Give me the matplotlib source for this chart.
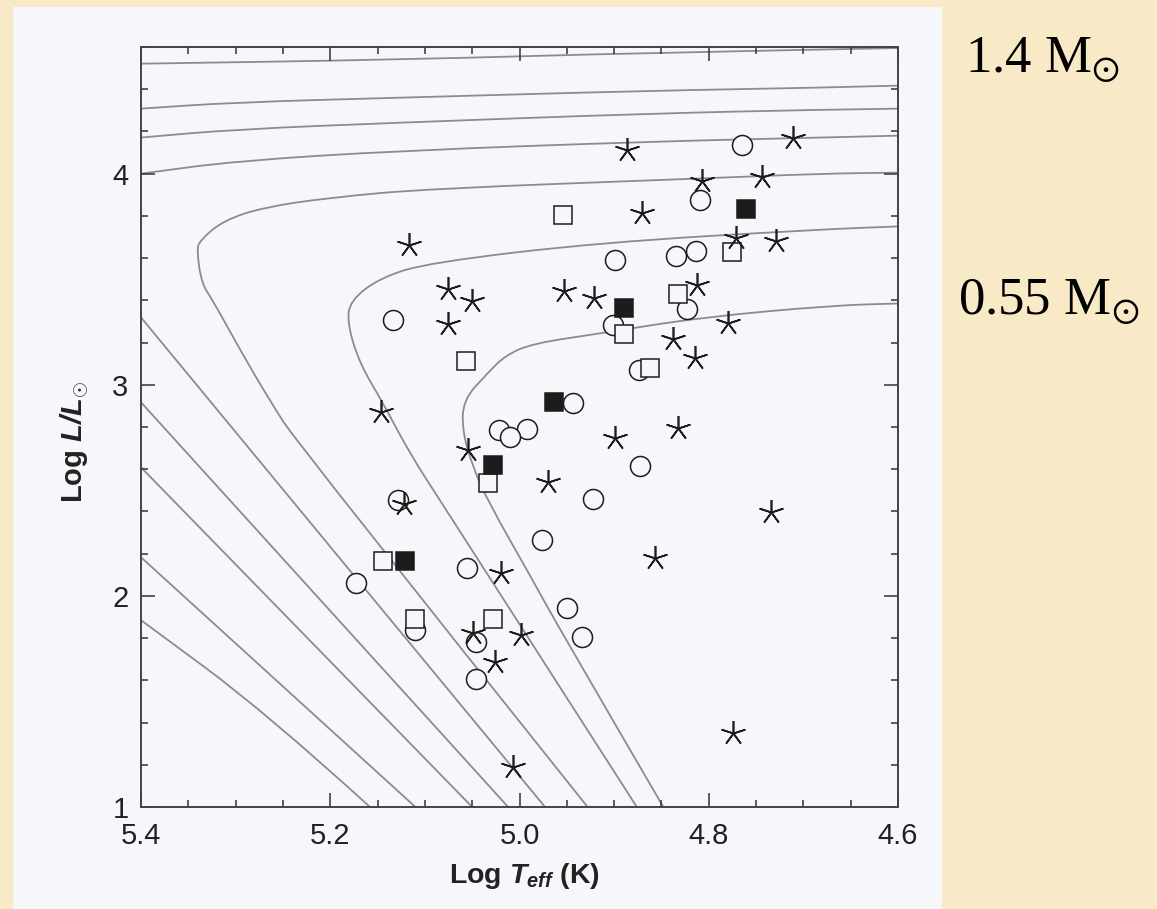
import numpy as np
import matplotlib.pyplot as plt
from matplotlib.patches import Rectangle, PathPatch
from matplotlib.path import Path
from matplotlib.ticker import MultipleLocator

plt.rcParams['font.family'] = 'Liberation Sans'
plt.rcParams['mathtext.fontset'] = 'custom'
plt.rcParams['mathtext.rm'] = 'Liberation Sans'
plt.rcParams['mathtext.it'] = 'Liberation Sans:italic'
plt.rcParams['mathtext.bf'] = 'Liberation Sans:bold'
plt.rcParams['mathtext.bfit'] = 'Liberation Sans:bold:italic'

# evolutionary tracks (log Teff, log L)
h1_x = [5.40, 5.126, 4.862, 4.60]
h1_y = [4.521, 4.540, 4.573, 4.595]
h2_x = [5.40, 5.30, 5.126, 4.862, 4.682, 4.60]
h2_y = [4.308, 4.338, 4.360, 4.393, 4.407, 4.417]
h3_x = [5.40, 5.30, 5.126, 4.862, 4.682, 4.60]
h3_y = [4.171, 4.210, 4.242, 4.285, 4.303, 4.308]
h4_x = [5.40, 5.30, 5.126, 4.862, 4.682, 4.60]
h4_y = [4.000, 4.060, 4.109, 4.152, 4.171, 4.180]

loop5_x = [4.600, 4.682, 4.809, 5.095, 5.200, 5.271, 5.313, 5.338, 5.341,
           5.336, 5.324, 5.295, 5.264, 5.235, 4.928]
loop5_y = [4.005, 4.000, 3.977, 3.929, 3.887, 3.840, 3.778, 3.683, 3.636,
           3.480, 3.399, 3.163, 2.926, 2.723, 1.000]
loop6_x = [4.600, 4.682, 4.915, 5.095, 5.147, 5.179, 5.182, 5.169, 5.144,
           5.116, 5.084, 4.876]
loop6_y = [3.750, 3.736, 3.674, 3.579, 3.508, 3.399, 3.291, 3.101, 2.912,
           2.675, 2.453, 1.000]
loop7_x = [4.600, 4.669, 4.809, 4.915, 4.986, 5.015, 5.034, 5.060, 5.060,
           5.049, 5.034, 4.986, 4.957, 4.848]
loop7_y = [3.385, 3.376, 3.319, 3.243, 3.196, 3.139, 3.054, 2.926, 2.770,
           2.609, 2.453, 2.074, 1.838, 1.000]

d1_x, d1_y = [5.40, 5.267, 5.158], [1.885, 1.445, 1.000]
d2_x, d2_y = [5.40, 5.110], [2.183, 1.000]
d3_x, d3_y = [5.40, 5.050], [2.609, 1.000]
d4_x, d4_y = [5.40, 5.012], [2.917, 1.000]
d5_x, d5_y = [5.40, 4.973], [3.319, 1.000]

tracks = [(h1_x, h1_y), (h2_x, h2_y), (h3_x, h3_y), (h4_x, h4_y),
          (loop5_x, loop5_y), (loop6_x, loop6_y), (loop7_x, loop7_y),
          (d1_x, d1_y), (d2_x, d2_y), (d3_x, d3_y), (d4_x, d4_y), (d5_x, d5_y)]

# central stars
circ_x = [4.765, 4.809, 4.899, 4.835, 4.813, 4.823, 5.134, 4.901, 4.874, 4.943,
          5.022, 4.992, 5.010, 5.128, 4.873, 4.922, 4.976, 5.173, 5.055, 4.950,
          5.110, 5.046, 4.934, 5.046]
circ_y = [4.138, 3.877, 3.593, 3.612, 3.636, 3.357, 3.305, 3.281, 3.068, 2.912,
          2.784, 2.789, 2.751, 2.453, 2.614, 2.458, 2.264, 2.060, 2.131, 1.942,
          1.838, 1.781, 1.805, 1.606]

star_x = [4.886, 4.711, 4.807, 4.744, 4.871, 4.771, 4.729, 5.117, 5.076, 5.050,
          5.076, 4.953, 4.921, 4.812, 4.780, 4.838, 4.815, 5.146, 5.054, 4.899,
          4.833, 4.970, 5.122, 4.734, 4.857, 5.020, 5.049, 4.998, 5.026, 5.007,
          4.774]
star_y = [4.114, 4.171, 3.967, 3.982, 3.816, 3.693, 3.679, 3.660, 3.456, 3.399,
          3.286, 3.442, 3.409, 3.475, 3.291, 3.215, 3.125, 2.869, 2.690, 2.746,
          2.794, 2.538, 2.434, 2.396, 2.178, 2.107, 1.823, 1.814, 1.686, 1.189,
          1.350]

sq_x = [4.954, 4.775, 4.833, 4.890, 4.862, 5.057, 5.033, 5.144, 5.110, 5.028]
sq_y = [3.802, 3.631, 3.428, 3.239, 3.078, 3.111, 2.533, 2.164, 1.890, 1.890]

fsq_x = [4.761, 4.890, 4.964, 5.028, 5.121]
fsq_y = [3.835, 3.362, 2.917, 2.619, 2.164]

x_ticks = [5.4, 5.2, 5.0, 4.8, 4.6]
x_labels = ['5.4', '5.2', '5.0', '4.8', '4.6']
y_ticks = [1, 2, 3, 4]
y_labels = ['1', '2', '3', '4']

beige = '#F8EAC6'
page = '#F6F7FB'
ink = '#1c1c1c'


def smooth_path(xs, ys):
    # read points used as quadratic bezier control points -> rounded track
    pts = list(zip(xs, ys))
    if len(pts) < 3:
        return Path(pts)
    verts = [pts[0]]
    codes = [Path.MOVETO]
    verts.append(((pts[0][0] + pts[1][0]) / 2, (pts[0][1] + pts[1][1]) / 2))
    codes.append(Path.LINETO)
    for i in range(1, len(pts) - 1):
        nxt = ((pts[i][0] + pts[i + 1][0]) / 2, (pts[i][1] + pts[i + 1][1]) / 2)
        if i == len(pts) - 2:
            nxt = pts[i + 1]
        verts += [pts[i], nxt]
        codes += [Path.CURVE3, Path.CURVE3]
    return Path(verts, codes)


fig = plt.figure(figsize=(11.57, 9.09), dpi=100)
fig.patch.set_facecolor(beige)
fig.patches.append(Rectangle((13 / 1157, 0), (942 - 13) / 1157, 1 - 7 / 909,
                             transform=fig.transFigure, facecolor=page,
                             edgecolor='none', zorder=-5))

ax = fig.add_axes([141 / 1157, 1 - 807 / 909, 757 / 1157, 760 / 909])
ax.set_zorder(2)
ax.set_facecolor(page)

for tx, ty in tracks:
    ax.add_patch(PathPatch(smooth_path(tx, ty), fill=False, edgecolor='#8c8c8c',
                           lw=1.3, zorder=1))

ax.plot(circ_x, circ_y, 'o', ms=14.4, mfc=page, mec=ink, mew=1.1, ls='none', zorder=3)
ax.plot(sq_x, sq_y, 's', ms=13, mfc=page, mec=ink, mew=1.1, ls='none', zorder=3)
ax.plot(fsq_x, fsq_y, 's', ms=13, mfc=ink, mec=ink, mew=1.1, ls='none', zorder=3)
ax.plot(star_x, star_y, marker=(5, 2, 0), ms=18, color=ink, mew=1.2, ls='none', zorder=4)

ax.set_xlim(5.4, 4.6)
ax.set_ylim(1, 4.6)
ax.set_xticks(x_ticks)
ax.set_xticklabels(x_labels)
ax.set_yticks(y_ticks)
ax.set_yticklabels(y_labels)
ax.xaxis.set_minor_locator(MultipleLocator(0.05))
ax.yaxis.set_minor_locator(MultipleLocator(0.2))
ax.tick_params(which='both', direction='in', top=True, right=True,
               colors='#333333', width=1.1, labelcolor='#222222')
ax.tick_params(which='major', length=10, labelsize=21)
ax.tick_params(axis='x', which='major', pad=11)
ax.tick_params(axis='y', which='major', pad=9)
ax.tick_params(which='minor', length=5)
for s in ax.spines.values():
    s.set_color('#444444')
    s.set_linewidth(1.4)

fig.text(75 / 1157, 1 - 442 / 909, r'$\mathbf{Log}\ \mathbfit{L/L}_{\odot}$',
         rotation=90, ha='center', va='center', fontsize=21, color='#222222')
fig.text(525 / 1157, 1 - 876 / 909,
         r'$\mathbf{Log}\ \mathbfit{T}_{\mathbfit{eff}}\ \mathbf{(K)}$',
         ha='center', va='center', fontsize=20.5, color='#222222')

fig.text(965 / 1157, 1 - 73 / 909, r'1.4 M$_{\odot}$', fontsize=38,
         family='Liberation Serif', math_fontfamily='stix', va='baseline', color='black')
fig.text(958 / 1157, 1 - 315 / 909, r'0.55 M$_{\odot}$', fontsize=38,
         family='Liberation Serif', math_fontfamily='stix', va='baseline', color='black')

fig.savefig('out.png', dpi=100, facecolor=beige)
